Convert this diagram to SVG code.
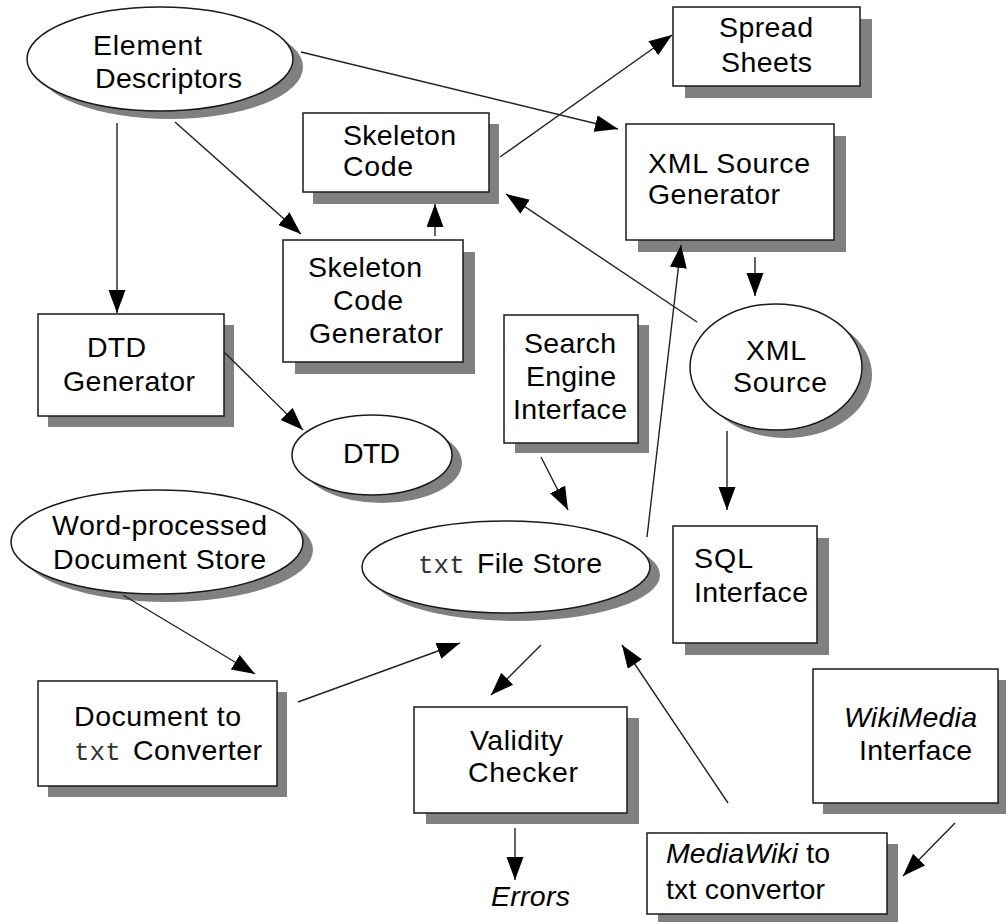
<svg xmlns="http://www.w3.org/2000/svg" width="1006" height="922" viewBox="0 0 1006 922">
  <style>
    .shadow { fill: #808080; stroke: none; }
    .shape { fill: #ffffff; stroke: #1a1a1a; stroke-width: 1.5; }
    .label { font-family: "Liberation Sans", Arial, sans-serif; font-size: 28.5px; fill: #000; }
    .mono { font-family: "Liberation Mono", "Courier New", monospace; font-size: 26px; fill: #333; }
    .it { font-style: italic; }
    .edge { fill: none; stroke: #222; stroke-width: 1.4; marker-end: url(#head); }
  </style>
  <defs>
    <marker id="head" markerUnits="userSpaceOnUse" markerWidth="25" markerHeight="18" refX="23" refY="8.5" orient="auto">
      <path d="M0,0 L23,8.5 L0,17 z" fill="#000"/>
    </marker>
  </defs>

  <rect width="1006" height="922" fill="#ffffff"/>

  <!-- ellipse nodes -->
  <g id="element-descriptors">
    <ellipse class="shadow" cx="170" cy="67" rx="133" ry="52"/>
    <ellipse class="shape" cx="160" cy="59" rx="133" ry="52"/>
    <text class="label" x="93" y="55" textLength="109">Element</text>
    <text class="label" x="95" y="88" textLength="147">Descriptors</text>
  </g>

  <g id="dtd">
    <ellipse class="shadow" cx="382" cy="463" rx="80" ry="40"/>
    <ellipse class="shape" cx="372" cy="455" rx="80" ry="40"/>
    <text class="label" x="343" y="463" textLength="57">DTD</text>
  </g>

  <g id="word-processed-store">
    <ellipse class="shadow" cx="167" cy="550" rx="146" ry="52"/>
    <ellipse class="shape" cx="157" cy="542" rx="146" ry="52"/>
    <text class="label" x="52" y="535" textLength="215">Word-processed</text>
    <text class="label" x="53" y="569" textLength="213">Document Store</text>
  </g>

  <g id="txt-file-store">
    <ellipse class="shadow" cx="516" cy="575" rx="144" ry="46"/>
    <ellipse class="shape" cx="506" cy="567" rx="144" ry="46"/>
    <text class="mono" x="418" y="573">txt</text>
    <text class="label" x="477" y="573" textLength="125">File Store</text>
  </g>

  <g id="xml-source">
    <ellipse class="shadow" cx="786" cy="375" rx="86" ry="63"/>
    <ellipse class="shape" cx="776" cy="367" rx="86" ry="63"/>
    <text class="label" x="746" y="360" textLength="60">XML</text>
    <text class="label" x="733" y="392" textLength="94">Source</text>
  </g>

  <!-- box nodes -->
  <g id="spread-sheets">
    <rect class="shadow" x="685" y="19" width="187" height="79"/>
    <rect class="shape" x="673" y="7" width="187" height="79"/>
    <text class="label" x="719" y="37" textLength="94">Spread</text>
    <text class="label" x="721" y="72" textLength="91">Sheets</text>
  </g>

  <g id="xml-source-generator">
    <rect class="shadow" x="638" y="136" width="208" height="116"/>
    <rect class="shape" x="626" y="124" width="208" height="116"/>
    <text class="label" x="648" y="173" textLength="162">XML Source</text>
    <text class="label" x="648" y="204" textLength="132">Generator</text>
  </g>

  <g id="skeleton-code">
    <rect class="shadow" x="313" y="124" width="186" height="80"/>
    <rect class="shape" x="303" y="113" width="186" height="79"/>
    <text class="label" x="343" y="145" textLength="113">Skeleton</text>
    <text class="label" x="343" y="176" textLength="70">Code</text>
  </g>

  <g id="skeleton-code-generator">
    <rect class="shadow" x="295" y="252" width="180" height="122"/>
    <rect class="shape" x="283" y="240" width="180" height="122"/>
    <text class="label" x="308" y="277" textLength="114">Skeleton</text>
    <text class="label" x="333" y="310" textLength="70">Code</text>
    <text class="label" x="309" y="343" textLength="134">Generator</text>
  </g>

  <g id="dtd-generator">
    <rect class="shadow" x="48" y="325" width="186" height="102"/>
    <rect class="shape" x="38" y="314" width="186" height="102"/>
    <text class="label" x="87" y="357" textLength="59">DTD</text>
    <text class="label" x="63" y="391" textLength="132">Generator</text>
  </g>

  <g id="search-engine-interface">
    <rect class="shadow" x="515" y="325" width="134" height="128"/>
    <rect class="shape" x="504" y="315" width="134" height="128"/>
    <text class="label" x="524" y="353" textLength="92">Search</text>
    <text class="label" x="526" y="386" textLength="90">Engine</text>
    <text class="label" x="513" y="419" textLength="114">Interface</text>
  </g>

  <g id="sql-interface">
    <rect class="shadow" x="685" y="538" width="144" height="117"/>
    <rect class="shape" x="673" y="526" width="144" height="117"/>
    <text class="label" x="694" y="568" textLength="59">SQL</text>
    <text class="label" x="694" y="602" textLength="114">Interface</text>
  </g>

  <g id="document-to-txt-converter">
    <rect class="shadow" x="48" y="692" width="239" height="105"/>
    <rect class="shape" x="38" y="681" width="239" height="105"/>
    <text class="label" x="74" y="726" textLength="167">Document to</text>
    <text class="mono" x="74" y="760">txt</text>
    <text class="label" x="133" y="760" textLength="129">Converter</text>
  </g>

  <g id="validity-checker">
    <rect class="shadow" x="426" y="718" width="213" height="106"/>
    <rect class="shape" x="414" y="707" width="213" height="106"/>
    <text class="label" x="470" y="750" textLength="93">Validity</text>
    <text class="label" x="468" y="782" textLength="110">Checker</text>
  </g>

  <g id="errors">
    <text class="label it" x="491" y="906" textLength="79">Errors</text>
  </g>

  <g id="wikimedia-interface">
    <rect class="shadow" x="823" y="680" width="187" height="134"/>
    <rect class="shape" x="813" y="669" width="185" height="134"/>
    <text class="label it" x="844" y="727" textLength="133">WikiMedia</text>
    <text class="label" x="859" y="760" textLength="113">Interface</text>
  </g>

  <g id="mediawiki-to-txt-convertor">
    <rect class="shadow" x="658" y="844" width="240" height="82"/>
    <rect class="shape" x="647" y="833" width="240" height="81"/>
    <text class="label" x="666" y="863" textLength="164"><tspan class="it">MediaWiki</tspan> to</text>
    <text class="label" x="666" y="899" textLength="159">txt convertor</text>
  </g>

  <!-- connectors -->
  <g id="connectors">
    <line class="edge" x1="117" y1="123" x2="117" y2="313"/>
    <line class="edge" x1="175" y1="122" x2="301" y2="234"/>
    <line class="edge" x1="301" y1="52" x2="618" y2="129"/>
    <line class="edge" x1="435" y1="236" x2="435" y2="204"/>
    <line class="edge" x1="500" y1="157" x2="672" y2="35"/>
    <line class="edge" x1="697" y1="322" x2="506" y2="194"/>
    <line class="edge" x1="755" y1="257" x2="755" y2="296"/>
    <line class="edge" x1="727" y1="431" x2="727" y2="510"/>
    <line class="edge" x1="224" y1="352" x2="303" y2="430"/>
    <line class="edge" x1="123" y1="595" x2="255" y2="674"/>
    <line class="edge" x1="298" y1="702" x2="460" y2="643"/>
    <line class="edge" x1="541" y1="457" x2="568" y2="510"/>
    <line class="edge" x1="647" y1="537" x2="681" y2="245"/>
    <line class="edge" x1="541" y1="645" x2="491" y2="695"/>
    <line class="edge" x1="515" y1="828" x2="515" y2="880"/>
    <line class="edge" x1="728" y1="803" x2="622" y2="645"/>
    <line class="edge" x1="955" y1="823" x2="903" y2="876"/>
  </g>
</svg>
